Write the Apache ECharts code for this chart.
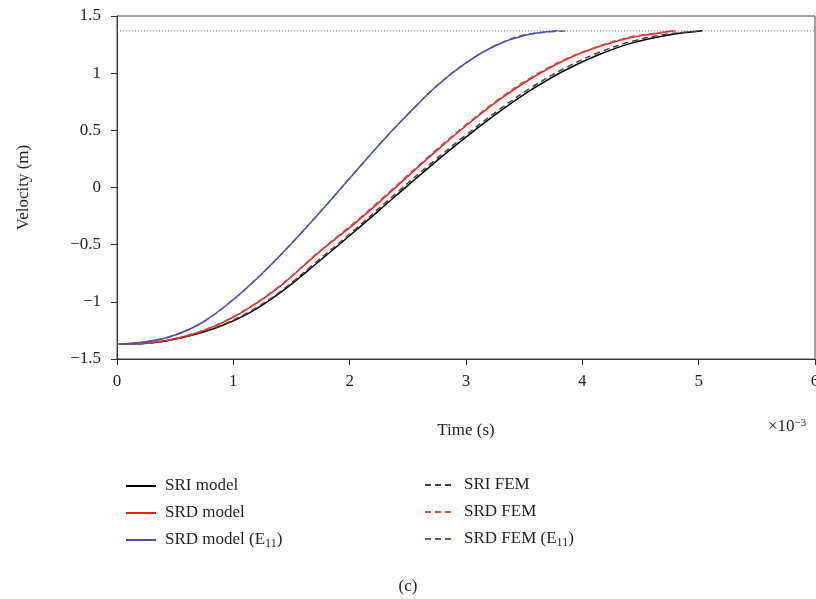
<!DOCTYPE html>
<html><head><meta charset="utf-8">
<script src="https://cdn.jsdelivr.net/npm/echarts@6/dist/echarts.min.js"></script>
<style>html,body{margin:0;padding:0;background:#fff}#c{width:816px;height:599px}</style>
</head><body><div id="c"></div>
<script>
// Time in units of 1e-3 s, velocity in m
const xTicks = [0, 1, 2, 3, 4, 5, 6];
const yTicks = [-1.5, -1, -0.5, 0, 0.5, 1, 1.5];
const refLevel = 1.37;

const tSRI = [0, 0.29, 0.57, 0.86, 1.15, 1.43, 1.72, 2.06, 2.40, 2.71, 3.00, 3.29, 3.57, 3.86, 4.15, 4.43, 4.72, 5.03];
const vSRI = [-1.37, -1.36, -1.31, -1.225, -1.09, -0.90, -0.66, -0.37, -0.07, 0.20, 0.44, 0.665, 0.86, 1.03, 1.165, 1.265, 1.33, 1.37];

const tSRIfem = [0, 0.29, 0.57, 0.86, 1.15, 1.43, 1.72, 2.06, 2.40, 2.71, 3.00, 3.29, 3.57, 3.86, 4.15, 4.43, 4.72, 5.03];
const vSRIfem = [-1.37, -1.36, -1.31, -1.22, -1.08, -0.89, -0.645, -0.355, -0.05, 0.22, 0.46, 0.685, 0.88, 1.05, 1.185, 1.28, 1.34, 1.37];

const tSRD = [0, 0.29, 0.57, 0.86, 1.15, 1.43, 1.72, 2.06, 2.285, 2.71, 3.00, 3.29, 3.57, 3.86, 4.15, 4.43, 4.72, 4.78];
const vSRD = [-1.37, -1.358, -1.306, -1.204, -1.044, -0.84, -0.58, -0.30, -0.10, 0.29, 0.54, 0.77, 0.96, 1.12, 1.235, 1.315, 1.36, 1.37];

const tSRDfem = [0, 0.29, 0.57, 0.86, 1.15, 1.43, 1.72, 2.06, 2.285, 2.71, 3.00, 3.29, 3.57, 3.86, 4.15, 4.43, 4.72, 4.80];
const vSRDfem = [-1.37, -1.358, -1.304, -1.20, -1.04, -0.835, -0.575, -0.29, -0.09, 0.30, 0.55, 0.78, 0.97, 1.125, 1.24, 1.32, 1.362, 1.37];

const tSRDE = [0, 0.25, 0.5, 0.75, 1.0, 1.25, 1.5, 1.75, 2.0, 2.25, 2.5, 2.75, 3.0, 3.25, 3.5, 3.79];
const vSRDE = [-1.37, -1.35, -1.29, -1.17, -0.98, -0.75, -0.49, -0.21, 0.08, 0.37, 0.64, 0.89, 1.09, 1.24, 1.33, 1.37];

const tSRDEfem = [0, 0.25, 0.5, 0.75, 1.0, 1.25, 1.5, 1.75, 2.0, 2.25, 2.5, 2.75, 3.0, 3.25, 3.5, 3.86];
const vSRDEfem = [-1.37, -1.35, -1.29, -1.17, -0.98, -0.75, -0.49, -0.21, 0.08, 0.37, 0.64, 0.89, 1.09, 1.24, 1.335, 1.37];

const names = ['SRI model', 'SRD model', 'SRD model (E11)', 'SRI FEM', 'SRD FEM', 'SRD FEM (E11)'];

const zip = (t, v) => t.map((x, i) => [x, v[i]]);
const FONT = '"Liberation Serif", "DejaVu Serif", serif';
const TXT = '#231f20';

function lineSeries(name, t, v, color, dashed, z) {
  return {
    name, type: 'line', data: zip(t, v), symbol: 'none', smooth: 0.35, z: z,
    lineStyle: { color, width: 1.5, type: dashed ? [6, 4] : 'solid' },
    itemStyle: { color },
    animation: false
  };
}

const fmtNum = v => String(v).replace('-', '\u2212');
const legendFmt = n => n.replace('(E11)', '(E{sub|11})');

const legendText = {
  fontFamily: FONT, fontSize: 17, color: TXT, lineHeight: 20, padding: [0, 0, 0, 4],
  rich: { sub: { fontFamily: FONT, fontSize: 12, lineHeight: 10, verticalAlign: 'bottom', color: TXT } }
};

const chart = echarts.init(document.getElementById('c'), null, { renderer: 'canvas' });
chart.setOption({
  animation: false,
  grid: { left: 117, right: 1, top: 16, bottom: 240, containLabel: false, outerBoundsMode: 'none',
    show: true, borderColor: '#444', borderWidth: 1, backgroundColor: 'transparent' },
  xAxis: {
    type: 'value', min: xTicks[0], max: xTicks[xTicks.length - 1], interval: 1,
    name: 'Time (s)', nameLocation: 'middle', nameGap: 63,
    nameTextStyle: { fontFamily: FONT, fontSize: 17, color: TXT },
    axisLine: { show: true, onZero: false, lineStyle: { color: '#333', width: 1 } },
    axisTick: { show: true, length: 6, lineStyle: { color: '#333' } },
    axisLabel: { fontFamily: FONT, fontSize: 17, color: TXT, margin: 14, formatter: fmtNum, hideOverlap: false },
    splitLine: { show: false }
  },
  yAxis: {
    type: 'value', min: yTicks[0], max: yTicks[yTicks.length - 1], interval: 0.5,
    name: 'Velocity (m)', nameLocation: 'middle', nameGap: 85,
    nameTextStyle: { fontFamily: FONT, fontSize: 17, color: TXT },
    axisLine: { show: true, onZero: false, lineStyle: { color: '#333', width: 1 } },
    axisTick: { show: true, length: 6, lineStyle: { color: '#333' } },
    axisLabel: { fontFamily: FONT, fontSize: 17, color: TXT, margin: 16, formatter: fmtNum },
    splitLine: { show: false }
  },
  legend: [
    { data: names.slice(0, 3), orient: 'vertical', left: 125, top: 476, padding: 0, itemWidth: 30, itemHeight: 14, itemGap: 7,
      itemStyle: { opacity: 0 }, formatter: legendFmt, textStyle: legendText, selectedMode: false },
    { data: names.slice(3), orient: 'vertical', left: 424, top: 475, padding: 0, itemWidth: 30, itemHeight: 14, itemGap: 7,
      itemStyle: { opacity: 0 }, formatter: legendFmt, textStyle: legendText, selectedMode: false }
  ],
  graphic: [
    { type: 'text', left: 768, top: 418, silent: true,
      style: { text: '\u00d710{sup|\u22123}', fontFamily: FONT, fontSize: 17, fill: TXT,
        rich: { sup: { fontFamily: FONT, fontSize: 11, verticalAlign: 'top', lineHeight: 10, fill: TXT } } } },
    { type: 'text', left: 'center', top: 578, silent: true,
      style: { text: '(c)', fontFamily: FONT, fontSize: 17, fill: TXT } }
  ],
  series: [
    { name: 'ref', type: 'line', data: [[xTicks[0], refLevel], [xTicks[xTicks.length - 1], refLevel]], symbol: 'none', silent: true,
      lineStyle: { color: '#777', width: 1, type: [1, 2] }, z: 1 },
    lineSeries(names[0], tSRI, vSRI, '#000000', false, 3),
    lineSeries(names[1], tSRD, vSRD, '#e3231b', false, 3),
    lineSeries(names[2], tSRDE, vSRDE, '#4b4fae', false, 3),
    lineSeries(names[3], tSRIfem, vSRIfem, '#444444', true, 4),
    lineSeries(names[4], tSRDfem, vSRDfem, '#e8453c', true, 4),
    lineSeries(names[5], tSRDEfem, vSRDEfem, '#4d58b8', true, 4)
  ]
});
</script>
</body></html>
